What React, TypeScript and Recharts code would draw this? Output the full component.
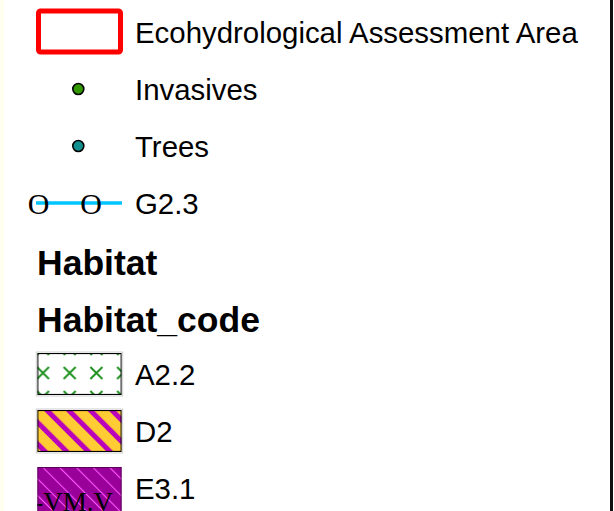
import { ScatterChart, Scatter, XAxis, YAxis } from "recharts";

// legend rows, top to bottom
const symbolLabels = ["Ecohydrological Assessment Area", "Invasives", "Trees", "G2.3"];
const headingLabels = ["Habitat", "Habitat_code"];
const habitatCodes = ["A2.2", "D2", "E3.1"];

// headings sit between the symbol rows and the habitat codes
const HEADING_SLOTS = [4.04, 5.04];
const CODE_START = 6;

const rows = [
  ...symbolLabels.map((label, i) => ({ label, kind: "symbol", x: 0, slot: i })),
  ...headingLabels.map((label, i) => ({ label, kind: "heading", x: 0, slot: HEADING_SLOTS[i] })),
  ...habitatCodes.map((label, i) => ({ label, kind: "code", x: 0, slot: CODE_START + i })),
];

const SANS = "'Liberation Sans', Arial, sans-serif";
const SERIF = "'Liberation Serif', 'Times New Roman', serif";

function Swatch({ label, cx, cy }: { label: string; cx: number; cy: number }) {
  if (label === "Ecohydrological Assessment Area") {
    return (
      <rect x={cx - 41} y={cy - 21} width={82} height={41} rx={2} fill="none" stroke="#ff0000" strokeWidth={5} />
    );
  }
  if (label === "Invasives" || label === "Trees") {
    return (
      <circle
        cx={cx - 1.2}
        cy={cy}
        r={5.5}
        fill={label === "Invasives" ? "#339900" : "#138f8f"}
        stroke="#000"
        strokeWidth={1.6}
      />
    );
  }
  if (label === "G2.3") {
    return (
      <g>
        <line x1={cx - 43.5} x2={cx + 42.5} y1={cy} y2={cy} stroke="#00c5ff" strokeWidth={3.5} />
        {[cx - 41, cx + 11.5].map((ox, i) => (
          <text key={i} x={ox} y={cy + 10.5} textAnchor="middle" fontFamily={SERIF} fontSize={30} fill="#000">
            O
          </text>
        ))}
      </g>
    );
  }

  const w = 84.4;
  const h = label === "E3.1" ? 46 : 42;
  const id = "pat-" + label.replace(/\./g, "");
  let pattern = null;
  let extra = null;
  if (label === "A2.2") {
    pattern = (
      <pattern id={id} patternUnits="userSpaceOnUse" x={-7.6} y={8} width={26.7} height={24}>
        <rect width={26.7} height={24} fill="#fff" />
        <path d="M7.3 6 L19.3 18 M19.3 6 L7.3 18" stroke="#229322" strokeWidth={2} />
      </pattern>
    );
  } else if (label === "D2") {
    pattern = (
      <pattern id={id} patternUnits="userSpaceOnUse" x={4.2} width={15.3} height={15.3} patternTransform="rotate(-45)">
        <rect width={15.3} height={15.3} fill="#ffcc33" />
        <rect width={5} height={15.3} fill="#bb00bb" />
      </pattern>
    );
  } else {
    pattern = (
      <pattern id={id} patternUnits="userSpaceOnUse" x={3.1} width={11.8} height={11.8} patternTransform="rotate(-45)">
        <rect width={11.8} height={11.8} fill="#990099" />
        <rect width={1.1} height={11.8} fill="#ff55ff" />
      </pattern>
    );
    extra = (
      <text x={-3} y={44} fontFamily={SERIF} fontSize={27} fill="#000">
        -VM.V
      </text>
    );
  }

  const left = cx - w / 2;
  const top = cy - 21;
  return (
    <g>
      {label !== "E3.1" && (
        <rect x={left - 1} y={top - 1} width={w + 2} height={h + 2} fill="none" stroke="#cfcfcf" strokeWidth={1} />
      )}
      <svg x={left} y={top} width={w} height={h} overflow="hidden">
        <defs>{pattern}</defs>
        <rect width={w} height={h} fill={`url(#${id})`} />
        {extra}
        <rect
          x={0.5}
          y={0.5}
          width={w - 1}
          height={label === "E3.1" ? h + 5 : h - 1}
          fill="none"
          stroke={label === "E3.1" ? "#5a005a" : "#000"}
          strokeWidth={1.2}
        />
      </svg>
    </g>
  );
}

const renderRow = (props: any) => {
  const { cx, cy, payload } = props;
  if (payload.kind === "heading") {
    return (
      <text x={cx - 42.5} y={cy + 13} fontFamily={SANS} fontSize={35.5} fontWeight="bold" fill="#000">
        {payload.label}
      </text>
    );
  }
  return (
    <g>
      <Swatch label={payload.label} cx={cx} cy={cy} />
      <text x={cx + 55.5} y={cy + 10.5} fontFamily={SANS} fontSize={29.4} fill="#000">
        {payload.label}
      </text>
    </g>
  );
};

export default function App() {
  return (
    <div style={{ position: "absolute", left: 0, top: 0, width: 614, height: 511, background: "#fff", overflow: "hidden" }}>
      <style>{"body{margin:0}"}</style>
      <div style={{ position: "absolute", left: 0, top: 0, width: 4, height: 511, background: "#fffff0" }} />
      <div style={{ position: "absolute", left: 610, top: 0, width: 3, height: 511, background: "#111" }} />
      <div style={{ position: "absolute", left: 0, top: 0 }}>
        <ScatterChart width={614} height={511} margin={{ top: 32, right: 0, bottom: 23, left: 79.5 }}>
          <XAxis type="number" dataKey="x" domain={[0, 1]} hide />
          <YAxis type="number" dataKey="slot" domain={[0, 8]} reversed hide />
          <Scatter data={rows} shape={renderRow} isAnimationActive={false} />
        </ScatterChart>
      </div>
    </div>
  );
}
